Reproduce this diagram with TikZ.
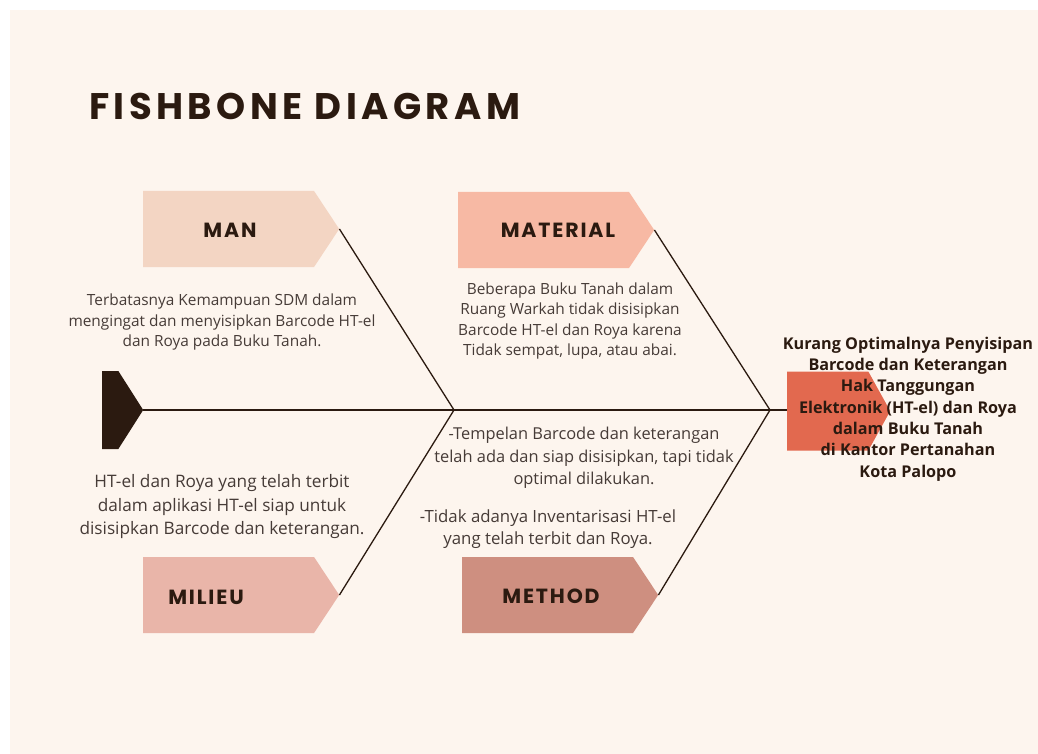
\documentclass[tikz,border=0pt]{standalone}
\usepackage{fontspec}
\setmainfont{Open Sans}
\newfontfamily\labelfont{Poppins}[LetterSpace=9]
\newfontfamily\titlefont{Poppins}[LetterSpace=12]
\usetikzlibrary{positioning,shapes.symbols}
\definecolor{cream}{HTML}{FDF5EE}
\definecolor{inkbrown}{HTML}{2B1A10}
\definecolor{notegray}{HTML}{463B37}
\definecolor{manfill}{HTML}{F3D5C3}
\definecolor{materialfill}{HTML}{F7B9A4}
\definecolor{milieufill}{HTML}{E9B5A9}
\definecolor{methodfill}{HTML}{CE8F80}
\definecolor{headfill}{HTML}{E2694F}

\begin{document}
\begin{tikzpicture}
[x=1pt, y=-1pt,
causebox/.style={signal, signal to=east, signal pointer angle=113, minimum width=196pt, minimum height=76pt, inner sep=0pt, anchor=west},
causelabel/.style={font=\labelfont\bfseries\fontsize{20.5}{24}\selectfont, text=inkbrown},
note/.style={align=center, text=notegray, font=\fontsize{15.4}{20.5}\selectfont},
bone/.style={draw=inkbrown, line width=1.3pt},
]
\useasboundingbox (0,0) rectangle (1038,754);
\fill[cream] (10,10) rectangle (1038,754);

\node[anchor=base west, inner sep=0pt, text=inkbrown, font=\titlefont\bfseries\fontsize{37}{40}\selectfont] (title) at (89,120) {FISHBONE DIAGRAM};

% tail, spine and head
\node[signal, signal to=east, signal pointer angle=115, fill=inkbrown, minimum width=41pt, minimum height=78pt, inner sep=0pt, anchor=west] (tail) at (102,410) {};
\node[signal, signal to=east, signal pointer angle=122, fill=headfill, minimum width=103pt, minimum height=79pt, inner sep=0pt, anchor=west] (headbox) at (787,411) {};
\coordinate (jleft) at (454,410);
\coordinate (jright) at (770,410);
\draw[bone] (tail.east) -- (jleft) -- (jright) -- (headbox.west |- jright);

\node[align=center, text=inkbrown, font=\bfseries\fontsize{16.2}{21.3}\selectfont] (effect) at (908,409)
  {Kurang Optimalnya Penyisipan\\Barcode dan Keterangan\\Hak Tanggungan\\Elektronik (HT-el) dan Roya\\dalam Buku Tanah\\di Kantor Pertanahan\\Kota Palopo};

% the four causes
\node[causebox, fill=manfill] (manbox) at (143,229) {};
\node[causebox, fill=materialfill] (materialbox) at (458,230) {};
\node[causebox, fill=milieufill] (milieubox) at (143,595) {};
\node[causebox, fill=methodfill] (methodbox) at (462,595) {};

\node[causelabel] (man) at (230,230) {MAN};
\node[causelabel] (material) at (558,230) {MATERIAL};
\node[causelabel] (milieu) at (206,597) {MILIEU};
\node[causelabel] (method) at (551,596) {METHOD};

\draw[bone] (manbox.east) -- (jleft);
\draw[bone] (milieubox.east) -- (jleft);
\draw[bone] (materialbox.east) -- (jright);
\draw[bone] (methodbox.east) -- (jright);

% notes
\node[note] (mannote) at (222,322) {Terbatasnya Kemampuan SDM dalam\\mengingat dan menyisipkan Barcode HT-el\\dan Roya pada Buku Tanah.};
\node[note] (materialnote) at (570,321) {Beberapa Buku Tanah dalam\\Ruang Warkah tidak disisipkan\\Barcode HT-el dan Roya karena\\Tidak sempat, lupa, atau abai.};
\node[note, font=\fontsize{17.2}{23.5}\selectfont] (milieunote) at (222,507) {HT-el dan Roya yang telah terbit\\dalam aplikasi HT-el siap untuk\\disisipkan Barcode dan keterangan.};
\node[note, font=\fontsize{16.4}{22.5}\selectfont] (methodnote) at (584,458) {-Tempelan Barcode dan keterangan\\telah ada dan siap disisipkan, tapi tidak\\optimal dilakukan.};
\node[note, font=\fontsize{16.8}{22.5}\selectfont] (methodnotetwo) at (548,529) {-Tidak adanya Inventarisasi HT-el\\yang telah terbit dan Roya.};
\end{tikzpicture}
\end{document}
